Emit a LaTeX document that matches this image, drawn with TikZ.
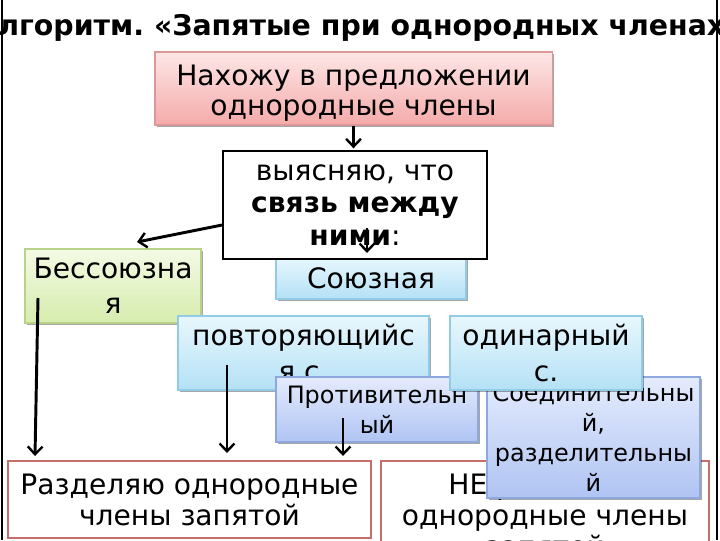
\documentclass[tikz,border=0pt]{standalone}
\usepackage{fontspec}
\setmainfont{DejaVu Sans}
\frenchspacing
\usetikzlibrary{arrows.meta,shadows}
\definecolor{pinkT}{HTML}{FDE6E6}
\definecolor{pinkD}{HTML}{F4ABAA}
\definecolor{pinkB}{HTML}{DA9896}
\definecolor{grnT}{HTML}{F4FAE4}
\definecolor{grnD}{HTML}{D6ECAE}
\definecolor{grnB}{HTML}{B8D28A}
\definecolor{cyT}{HTML}{E8F7FD}
\definecolor{cyD}{HTML}{B4E1F6}
\definecolor{cyB}{HTML}{92CBE5}
\definecolor{pwT}{HTML}{E4EBFC}
\definecolor{pwD}{HTML}{B0C4F3}
\definecolor{pwB}{HTML}{8EA8DE}
\definecolor{redB}{HTML}{C56F6D}
\tikzset{
  bx/.style={draw, line width=0.8pt, align=center, inner sep=0pt},
  shd/.style={drop shadow={shadow xshift=1.2pt,shadow yshift=-1.5pt,opacity=0.35,fill=black}},
  pinkbox/.style={bx,shd,draw=pinkB,top color=pinkT,bottom color=pinkD},
  grnbox/.style={bx,shd,draw=grnB,top color=grnT,bottom color=grnD},
  cybox/.style={bx,shd,draw=cyB,top color=cyT,bottom color=cyD},
  pwbox/.style={bx,shd,draw=pwB,top color=pwT,bottom color=pwD},
  redbox/.style={draw=redB, line width=1.4pt, fill=white, align=center, inner xsep=0pt, inner ysep=9pt, anchor=north,
     font=\fontsize{20}{22}\selectfont},
  big/.style={font=\fontsize{20}{25}\selectfont},
  small/.style={font=\fontsize{17}{21.3}\selectfont},
  arr/.style={line width=2.1pt,-{Straight Barb[length=5.5pt,width=10.5pt,line width=1.7pt]}},
}
\begin{document}
\begin{tikzpicture}[x=0.025cm,y=-0.025cm]
\useasboundingbox (0,0) rectangle (720,540);
% title
\node[anchor=base west, inner sep=0pt, font=\fontsize{20.2}{22}\selectfont\bfseries] (title) at (-2,35)
  {\llap{А}лгоритм. «Запятые при однородных членах\rlap{»}};
% frame
\draw[line width=1.2pt] (2,0) -- (2,540);
\draw[line width=1.2pt] (717,0) -- (717,540);
% bottom boxes
\node[redbox, minimum width=9.075cm] (bl) at (189.5,460) {Разделяю однородные\\члены запятой};
\node[redbox, minimum width=8.2cm] (br) at (545,460) {НЕ разделяю\\однородные члены\\запятой};
% top boxes
\node[pinkbox, minimum width=9.925cm, minimum height=1.825cm, font=\fontsize{20}{21.5}\selectfont] (pink) at (353.5,88.5)
  {\raisebox{-3.5pt}[\height][\depth]{\parbox{9cm}{\centering Нахожу в предложении\\однородные члены}}};
\node[cybox, big, minimum width=4.75cm, minimum height=1.05cm] (soyuz) at (371,278) {Союзная};
\node[draw=black, line width=1.8pt, fill=white, align=center, inner sep=0pt, minimum width=6.6cm, minimum height=2.7cm,
  font=\fontsize{20}{23}\selectfont] (white) at (355,205)
  {выясняю, что\\\textbf{связь между}\\\textbf{ними}:};
\node[grnbox, big, minimum width=4.4cm, minimum height=1.85cm] (green) at (113,286) {Бессоюзна\\я};
\node[cybox, big, minimum width=6.275cm, minimum height=1.85cm] (povt) at (303.5,353) {повторяющийс\\я с.};
\node[pwbox, small, minimum width=5.05cm, minimum height=1.625cm] (prot) at (377,409.5) {Противительн\\ый};
\node[pwbox, small, minimum width=5.325cm, minimum height=3.025cm] (soed) at (593.5,437.5) {Соединительны\\й,\\разделительны\\й};
\node[cybox, big, minimum width=4.8cm, minimum height=1.85cm] (odin) at (546,353) {одинарный\\с.};
% arrow coordinates
\coordinate (bS) at (222,225);
\coordinate (bT) at (137,242);
\coordinate (cS) at (367,228);
\coordinate (cT) at (367,253);
\coordinate (dS) at (38,298);
\coordinate (dT) at (35,456);
\coordinate (eS) at (227,365);
\coordinate (eT) at (227,453);
\coordinate (fS) at (343,418);
\coordinate (fT) at (343,456);
% arrows
\draw[arr] (pink.south) -- ([yshift=1pt]pink.south |- white.north);
\draw[arr] (bS) -- (bT);
\draw[arr] (cS) -- (cT);
\draw[arr] (dS) -- (dT);
\draw[arr] (eS) -- (eT);
\draw[arr] (fS) -- (fT);
\end{tikzpicture}
\end{document}
